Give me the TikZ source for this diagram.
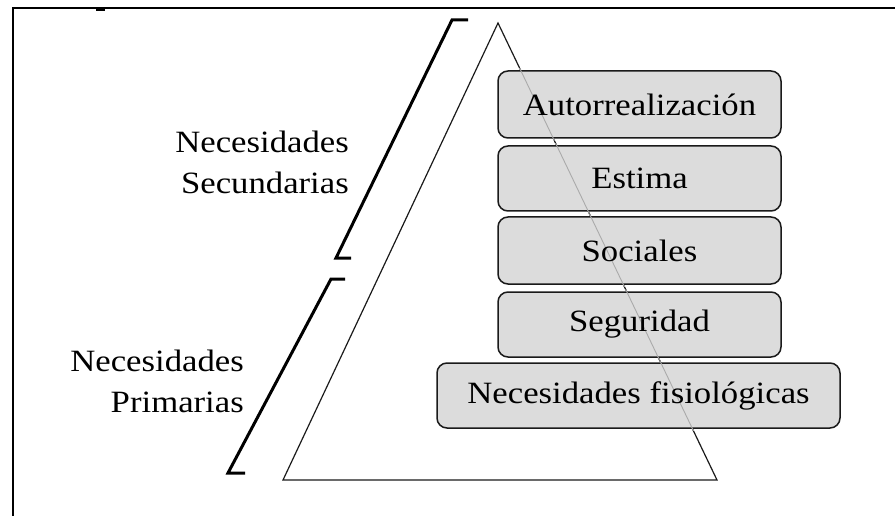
\documentclass[tikz,border=0pt]{standalone}
\usepackage{fontspec}
\setmainfont{Liberation Serif}[FakeStretch=1.12]
\definecolor{boxfill}{HTML}{DCDCDC}
\definecolor{ink}{HTML}{1A1A1A}
\definecolor{faint}{HTML}{AAAAAA}
\tikzset{
  levelbox/.style={draw=ink, line width=1.5pt, rounded corners=10pt, fill=boxfill, inner sep=0pt},
  bracketline/.style={line width=3pt, line cap=butt, line join=miter},
  sidelabel/.style={align=right, anchor=east, font=\fontsize{31}{41}\selectfont, inner sep=0pt},
  boxtext/.style={font=\fontsize{31}{36}\selectfont}
}
\begin{document}
\begin{tikzpicture}[x=1pt,y=-1pt]
\useasboundingbox (0,0) rectangle (895,516);
% frame remnants
\draw[line width=2pt] (13,516) -- (13,8) -- (895,8);
\fill (96,8) rectangle (105,11);
% triangle
\coordinate (apex) at (498,23);
\coordinate (bl) at (283,480);
\coordinate (br) at (717,480);
\draw[line width=1.2pt, ink] (apex) -- (bl) -- (br) -- cycle;
% boxes
\node[levelbox, minimum width=283pt, minimum height=67pt] (auto) at (639.5,104.5) {};
\node[levelbox, minimum width=283pt, minimum height=65pt] (estima) at (639.5,178.5) {};
\node[levelbox, minimum width=283pt, minimum height=67pt] (soc) at (639.5,250.5) {};
\node[levelbox, minimum width=283pt, minimum height=65pt] (seg) at (639.5,324.5) {};
\node[levelbox, minimum width=403pt, minimum height=65pt] (fis) at (638.5,395.5) {};
% faint triangle side seen through boxes
\begin{scope}
\clip ([shift={(2pt,-2pt)}]auto.south west) rectangle ([shift={(-2pt,2pt)}]auto.north east)
      ([shift={(2pt,-2pt)}]estima.south west) rectangle ([shift={(-2pt,2pt)}]estima.north east)
      ([shift={(2pt,-2pt)}]soc.south west) rectangle ([shift={(-2pt,2pt)}]soc.north east)
      ([shift={(2pt,-2pt)}]seg.south west) rectangle ([shift={(-2pt,2pt)}]seg.north east)
      ([shift={(2pt,-2pt)}]fis.south west) rectangle ([shift={(-2pt,2pt)}]fis.north east);
\draw[line width=0.9pt, faint] (apex) -- (br);
\end{scope}
\node[boxtext] at (auto) {Autorrealización};
\node[boxtext] at (estima) {Estima};
\node[boxtext] at (soc) {Sociales};
\node[boxtext] at (seg) {Seguridad};
\node[boxtext] at (fis) {Necesidades fisiológicas};
% brackets
\coordinate (s1) at (468,20);
\coordinate (s2) at (452,20);
\coordinate (s3) at (336,258);
\coordinate (s4) at (351,258);
\draw[bracketline] (s1) -- (s2) -- (s3) -- (s4);
\coordinate (p1) at (345,279);
\coordinate (p2) at (331,279);
\coordinate (p3) at (228,473);
\coordinate (p4) at (245,473);
\draw[bracketline] (p1) -- (p2) -- (p3) -- (p4);
% labels
\node[sidelabel] (sec) at (349,162) {Necesidades\\Secundarias};
\node[sidelabel] (pri) at (244,381) {Necesidades\\Primarias};
\end{tikzpicture}
\end{document}
